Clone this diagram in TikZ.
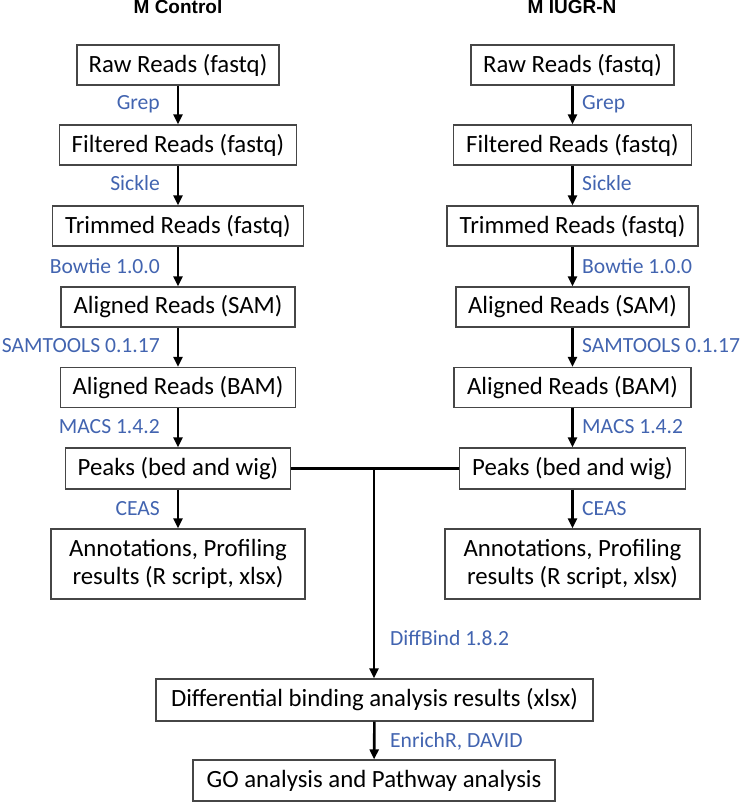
\documentclass[tikz,border=0pt]{standalone}
\usepackage{fontspec}
\setmainfont{Carlito}
\newfontfamily\titlefont{Liberation Sans}
\usetikzlibrary{arrows.meta}
\definecolor{lblue}{RGB}{66,100,176}
\definecolor{boxline}{RGB}{70,70,70}
\tikzset{
  stepbox/.style={draw=boxline, line width=1.3pt, inner sep=0pt, minimum height=40pt,
    font=\fontsize{24.8}{28}\selectfont, text=black, align=center},
  flow/.style={line width=2.6pt, -{Triangle[length=10pt,width=9pt]}},
  tool/.style={font=\fontsize{21.6}{24}\selectfont, text=lblue, inner sep=0pt},
  ttl/.style={font=\titlefont\bfseries\fontsize{19}{22}\selectfont, inner sep=0pt, anchor=base}
}
\begin{document}
\begin{tikzpicture}[x=1pt,y=-1pt]
\useasboundingbox (0,0) rectangle (743,802);
% titles
\node[ttl] (tL) at (178,14) {M Control};
\node[ttl] (tR) at (572,14) {M IUGR-N};
% left column
\node[stepbox, minimum width=202pt] (rawL) at (178,65) {Raw Reads (fastq)};
\node[stepbox, minimum width=237pt] (filL) at (178,145) {Filtered Reads (fastq)};
\node[stepbox, minimum width=251pt] (trmL) at (178,226) {Trimmed Reads (fastq)};
\node[stepbox, minimum width=234pt] (samL) at (178,307) {Aligned Reads (SAM)};
\node[stepbox, minimum width=235pt] (bamL) at (178,387.5) {Aligned Reads (BAM)};
\node[stepbox, minimum width=225pt, minimum height=41pt] (pkL) at (178,468.5) {Peaks (bed and wig)};
\node[stepbox, minimum width=254pt, minimum height=70pt] (anL) at (178,564) {Annotations, Profiling\\results (R script, xlsx)};
% right column
\node[stepbox, minimum width=203pt] (rawR) at (572.5,65) {Raw Reads (fastq)};
\node[stepbox, minimum width=238pt] (filR) at (572.5,145) {Filtered Reads (fastq)};
\node[stepbox, minimum width=251pt] (trmR) at (572.5,226) {Trimmed Reads (fastq)};
\node[stepbox, minimum width=233pt] (samR) at (572.5,307) {Aligned Reads (SAM)};
\node[stepbox, minimum width=237pt] (bamR) at (572.5,387.5) {Aligned Reads (BAM)};
\node[stepbox, minimum width=226pt, minimum height=41pt] (pkR) at (572.5,468.5) {Peaks (bed and wig)};
\node[stepbox, minimum width=255pt, minimum height=70pt] (anR) at (572.5,564) {Annotations, Profiling\\results (R script, xlsx)};
% bottom
\node[stepbox, minimum width=437pt, minimum height=42pt] (diff) at (374.5,700) {Differential binding analysis results (xlsx)};
\node[stepbox, minimum width=362pt, minimum height=41pt] (go) at (374,780.5) {GO analysis and Pathway analysis};
% arrows left
\draw[flow] (rawL) -- (filL);
\draw[flow] (filL) -- (trmL);
\draw[flow] (trmL) -- (samL);
\draw[flow] (samL) -- (bamL);
\draw[flow] (bamL) -- (pkL);
\draw[flow] (pkL) -- (anL);
% arrows right
\draw[flow] (rawR) -- (filR);
\draw[flow] (filR) -- (trmR);
\draw[flow] (trmR) -- (samR);
\draw[flow] (samR) -- (bamR);
\draw[flow] (bamR) -- (pkR);
\draw[flow] (pkR) -- (anR);
% merge
\draw[line width=2.8pt] (pkL.east) -- (pkR.west);
\coordinate (jn) at (374,468.5);
\draw[flow] (jn) -- (jn |- diff.north);
\draw[flow] (diff) -- (go);
% tool labels left
\node[tool, anchor=base east] (lg1) at (160,110) {Grep};
\node[tool, anchor=base east] (lg2) at (160,191) {Sickle};
\node[tool, anchor=base east] (lg3) at (160,273) {Bowtie 1.0.0};
\node[tool, anchor=base east] (lg4) at (160,352) {SAMTOOLS 0.1.17};
\node[tool, anchor=base east] (lg5) at (160,433) {MACS 1.4.2};
\node[tool, anchor=base east] (lg6) at (160,515) {CEAS};
% tool labels right
\node[tool, anchor=base west] (rg1) at (582,110) {Grep};
\node[tool, anchor=base west] (rg2) at (582,191) {Sickle};
\node[tool, anchor=base west] (rg3) at (582,273) {Bowtie 1.0.0};
\node[tool, anchor=base west] (rg4) at (582,352) {SAMTOOLS 0.1.17};
\node[tool, anchor=base west] (rg5) at (582,433) {MACS 1.4.2};
\node[tool, anchor=base west] (rg6) at (582,515) {CEAS};
% bottom labels
\node[tool, anchor=base west] (db) at (390,645) {DiffBind 1.8.2};
\node[tool, anchor=base west] (en) at (390,747) {EnrichR, DAVID};
\end{tikzpicture}
\end{document}
